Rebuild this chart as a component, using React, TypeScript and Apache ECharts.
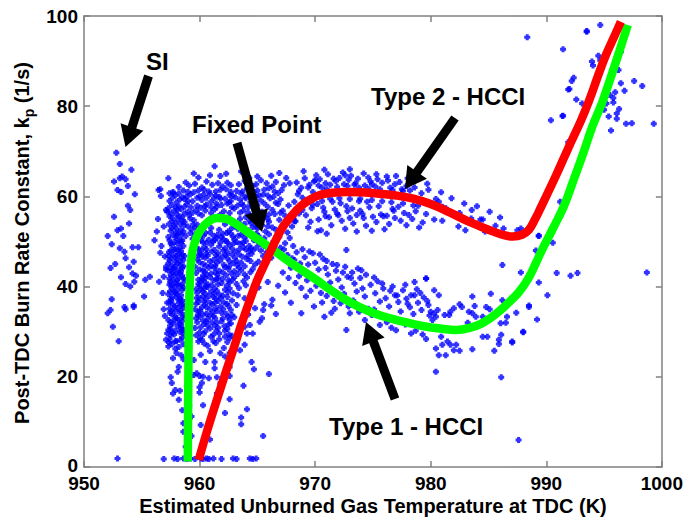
import React, { useEffect, useRef } from "react";
import * as echarts from "echarts";

const FONT = "'Liberation Sans', Arial, Helvetica, sans-serif";

const xTicks = [950, 960, 970, 980, 990, 1000];
const yTicks = [0, 20, 40, 60, 80, 100];

const greenCurve: number[][] = [
  [958.98, 1.2], [959.0, 10], [959.03, 20], [959.06, 30], [959.12, 38], [959.22, 44], [959.4, 48], [959.7, 50.6],
  [960.1, 52.6], [960.7, 54.3], [961.5, 55.2], [962.3, 55.0], [963.2, 53.8], [964.2, 52.0], [965.2, 50.2],
  [966.4, 48.1], [967.5, 46.0], [968.7, 43.9], [970.1, 41.5], [971.3, 39.3], [972.5, 37.3], [973.8, 35.5],
  [975.2, 34.0], [976.6, 32.9], [978.0, 32.0], [979.4, 31.2], [980.8, 30.7], [982.2, 30.4], [983.3, 30.8],
  [984.3, 31.7], [985.2, 33.1], [986.0, 34.7], [986.8, 36.6], [987.6, 38.7], [988.4, 41.6], [989.1, 45.2],
  [989.6, 48.0], [990.5, 52.5], [991.5, 57.7], [992.3, 63.2], [993.2, 69.6], [994.0, 75.6], [994.8, 80.6],
  [995.5, 85.8], [996.3, 92.0], [997.05, 98.0],
];

const redCurve: number[][] = [
  [959.93, 1.6], [960.7, 8.4], [961.5, 14.9], [962.2, 20.5], [962.9, 25.9], [963.6, 31.5], [964.35, 37.0],
  [965.0, 41.5], [965.8, 45.9], [966.5, 49.8], [967.2, 53.2], [968.0, 55.8], [968.7, 57.7], [969.5, 59.2],
  [970.4, 60.3], [971.5, 60.8], [972.7, 61.0], [974.0, 60.9], [975.5, 60.6], [977.0, 60.2], [978.5, 59.5],
  [980.0, 58.3], [981.6, 56.5], [983.3, 54.4], [985.0, 52.6], [986.2, 51.5], [987.1, 51.1], [987.9, 51.5],
  [988.5, 52.6], [989.0, 54.8], [989.5, 57.4], [990.8, 64.4], [991.9, 70.7], [993.0, 76.8], [993.7, 81.2],
  [994.5, 86.9], [995.1, 91.0], [995.8, 95.0], [996.45, 98.7],
];

const siCluster: number[][] = [
  [952.8, 69.7], [953.1, 67.2], [954.1, 65.9], [952.6, 63.3], [953.1, 64.0], [953.3, 64.4], [953.6, 63.8],
  [952.9, 61.4], [953.2, 61.0], [953.8, 62.3], [954.4, 60.5], [953.8, 57.9], [954.0, 57.0], [952.6, 55.5],
  [953.9, 54.0], [952.9, 52.5], [953.2, 52.9], [953.4, 51.2], [952.05, 51.2], [952.4, 49.4], [953.1, 48.5],
  [953.5, 47.7], [954.2, 48.7], [954.7, 48.7], [953.6, 46.3], [954.3, 45.5], [952.7, 45.0], [952.3, 44.1],
  [953.9, 44.3], [954.2, 42.9], [954.5, 42.4], [953.2, 42.1], [953.6, 40.6], [954.0, 40.0], [954.35, 41.1],
  [955.3, 41.5], [955.7, 42.2], [955.2, 37.8], [952.4, 37.2], [953.5, 35.5], [954.3, 35.8], [952.3, 34.8],
  [952.05, 34.1], [952.5, 31.1], [953.0, 27.9], [953.6, 35.0], [954.3, 35.5],
];

const coreCloud: number[][] = [
  [957.6, 27.3], [958.2, 26.6], [959.9, 27.8], [960.7, 26.9], [961.4, 27.5], [962.1, 26.4], [957.4, 28.4],
  [958.0, 27.9], [958.5, 28.7], [960.2, 28.2], [961.0, 28.9], [962.4, 27.7], [957.8, 29.4], [958.3, 29.9],
  [959.7, 29.2], [960.5, 30.1], [961.7, 29.6], [962.8, 29.1], [957.5, 30.6], [958.1, 31.2], [958.6, 30.4],
  [960.1, 31.0], [960.9, 30.7], [961.3, 31.4], [962.2, 30.2], [957.7, 31.8], [958.4, 31.5], [959.8, 32.1],
  [960.4, 31.7], [961.9, 32.3], [962.5, 31.6], [957.3, 32.6], [958.0, 33.0], [958.5, 32.4], [960.0, 33.3],
  [960.7, 32.8], [961.2, 33.5], [962.0, 32.9], [963.0, 33.2], [957.6, 33.8], [958.3, 34.2], [959.9, 34.4],
  [960.6, 34.0], [961.5, 34.6], [962.3, 33.9], [957.4, 35.1], [957.9, 34.7], [958.6, 35.3], [960.2, 35.4],
  [960.9, 35.0], [961.8, 35.6], [962.7, 34.8], [957.7, 36.0], [958.2, 36.4], [959.7, 36.2], [960.4, 36.7],
  [961.1, 36.1], [962.1, 36.5], [963.2, 35.9], [957.5, 37.2], [958.0, 37.6], [958.5, 36.9], [960.0, 37.4],
  [960.8, 37.9], [961.4, 37.3], [962.4, 37.7], [957.3, 38.3], [957.8, 38.8], [958.4, 38.1], [959.8, 38.6],
  [960.5, 38.4], [961.0, 38.9], [961.7, 38.2], [962.9, 38.5], [957.6, 39.5], [958.1, 39.2], [958.6, 39.8],
  [960.1, 39.4], [960.7, 39.9], [961.3, 39.6], [962.2, 39.3], [963.4, 39.7], [957.4, 40.4], [957.9, 40.8],
  [958.3, 40.2], [959.9, 40.6], [960.4, 41.1], [961.6, 40.5], [962.6, 40.9], [957.7, 41.5], [958.2, 41.9],
  [958.7, 41.3], [960.2, 41.8], [960.9, 42.1], [961.2, 41.4], [962.0, 41.7], [963.0, 42.0], [963.8, 41.2],
  [957.5, 42.6], [958.0, 42.9], [958.5, 42.4], [959.7, 43.0], [960.6, 42.7], [961.4, 43.1], [962.3, 42.5],
  [963.3, 42.8], [957.3, 43.6], [957.8, 44.0], [958.4, 43.4], [960.0, 43.8], [960.8, 44.2], [961.7, 43.5],
  [962.5, 43.9], [963.6, 43.6], [964.4, 43.2], [957.6, 44.7], [958.1, 45.1], [958.6, 44.5], [960.3, 45.0],
  [961.0, 44.6], [961.5, 45.3], [962.1, 44.8], [962.9, 45.2], [963.9, 44.5], [964.8, 44.9], [957.4, 45.8],
  [958.0, 46.2], [958.3, 45.6], [959.8, 46.0], [960.5, 46.4], [961.2, 45.9], [962.4, 46.3], [963.2, 45.7],
  [964.1, 46.1], [965.1, 45.5], [957.7, 47.0], [958.2, 47.3], [958.7, 46.8], [960.1, 47.2], [960.7, 46.9],
  [961.6, 47.4], [962.0, 46.7], [962.8, 47.1], [963.7, 46.6], [964.5, 47.3], [965.5, 46.8], [966.2, 46.4],
  [957.5, 48.0], [957.9, 48.4], [958.4, 47.9], [959.9, 48.3], [960.4, 48.7], [961.3, 48.1], [962.2, 48.5],
  [963.1, 47.8], [964.0, 48.2], [964.9, 48.6], [965.8, 47.6], [966.7, 47.9], [957.6, 49.2], [958.1, 49.6],
  [958.6, 49.0], [959.6, 49.4], [960.3, 49.8], [961.0, 49.3], [961.8, 49.7], [962.6, 49.1], [963.5, 49.5],
  [964.3, 49.0], [965.2, 49.4], [966.0, 48.9], [967.0, 48.6], [957.4, 50.3], [958.0, 50.7], [958.5, 50.2],
  [959.4, 50.6], [960.0, 50.9], [960.8, 50.4], [961.5, 50.8], [962.3, 50.1], [963.0, 50.5], [963.9, 50.9],
  [964.7, 50.3], [965.6, 50.7], [966.4, 50.0], [967.4, 49.6], [957.7, 51.4], [958.2, 51.8], [958.8, 51.2],
  [959.6, 51.6], [960.5, 51.9], [961.2, 51.3], [962.0, 51.7], [962.9, 51.1], [963.6, 51.5], [964.4, 51.9],
  [965.1, 51.2], [966.0, 51.6], [966.9, 51.0], [967.8, 50.8], [957.5, 52.4], [958.0, 52.8], [958.6, 52.2],
  [959.3, 52.7], [960.2, 52.9], [961.0, 53.0], [961.7, 52.6], [962.5, 52.3], [963.3, 52.8], [964.2, 52.5],
  [965.0, 52.9], [965.7, 52.2], [966.6, 52.6], [967.6, 52.0], [957.8, 53.5], [958.3, 53.9], [959.0, 53.3],
  [959.8, 53.7], [962.2, 53.8], [963.1, 53.4], [963.9, 53.9], [964.6, 53.2], [965.4, 53.6], [966.3, 53.1],
  [967.2, 53.7], [968.0, 53.3], [957.6, 54.5], [958.1, 54.9], [958.7, 54.3], [959.5, 54.7], [963.5, 55.0],
  [964.3, 54.6], [965.2, 55.1], [966.0, 54.4], [966.9, 54.8], [968.2, 54.5], [957.4, 55.6], [958.0, 56.0],
  [958.5, 55.4], [959.1, 55.8], [959.9, 56.2], [964.8, 55.9], [965.6, 55.5], [966.5, 56.1], [967.4, 55.7],
  [957.8, 56.8], [958.4, 57.2], [959.0, 56.6], [959.7, 57.0], [960.5, 56.9], [961.3, 57.1], [962.1, 56.7],
  [963.0, 57.3], [963.8, 56.9], [964.7, 57.2], [965.4, 56.6], [966.3, 57.0], [967.2, 56.8], [957.6, 58.1],
  [958.2, 57.8], [958.9, 58.3], [959.8, 57.9], [960.6, 58.2], [961.5, 57.7], [962.4, 58.4], [963.3, 58.0],
  [964.2, 57.6], [965.0, 58.1], [965.9, 57.7], [966.8, 58.3], [967.7, 58.0], [957.4, 59.0], [958.0, 58.7],
  [958.7, 59.4], [959.4, 58.9], [960.2, 59.2], [961.0, 58.8], [961.8, 59.5], [962.7, 59.0], [963.5, 59.3],
  [964.4, 58.7], [965.3, 59.1], [966.1, 59.6], [967.0, 59.3], [957.9, 60.2], [958.5, 59.8], [959.2, 60.4],
  [960.0, 60.0], [960.9, 60.5], [961.7, 59.9], [962.6, 60.3], [963.6, 60.6], [964.5, 60.1], [965.5, 60.4],
  [966.4, 59.9], [957.7, 61.0], [958.6, 61.3], [959.5, 60.9], [960.4, 61.5], [961.4, 61.1], [962.3, 61.6],
  [963.2, 61.2], [964.1, 61.7], [965.0, 61.3], [966.0, 61.8], [967.1, 61.4], [958.2, 62.1], [959.1, 62.4],
  [960.2, 62.0], [961.1, 62.6], [962.0, 62.2], [963.4, 62.7], [964.6, 62.3], [965.8, 62.9], [967.3, 62.5],
  [958.8, 63.1], [960.6, 63.3], [962.4, 63.0], [963.9, 63.4], [965.3, 63.6], [966.6, 63.2], [959.9, 64.2],
  [961.8, 64.5], [964.3, 64.1], [966.2, 64.6], [960.9, 64.7], [962.3, 65.0], [961.3, 66.7], [959.5, 65.1],
  [957.3, 64.0], [963.6, 65.5], [965.0, 64.4], [956.45, 61.4], [957.7, 60.7],
];

const coreInfill: number[][] = [
  [957.9, 27.9], [958.6, 27.2], [960.4, 27.4], [961.7, 28.3], [962.6, 28.6], [957.5, 29.2], [958.6, 29.6],
  [960.0, 29.8], [961.2, 29.3], [962.4, 30.6], [957.9, 30.2], [958.4, 30.9], [959.6, 30.8], [960.7, 31.3],
  [961.6, 30.9], [962.7, 31.8], [957.5, 32.1], [958.2, 32.6], [959.7, 33.0], [960.3, 32.5], [961.5, 32.0],
  [962.6, 32.7], [957.9, 33.4], [958.6, 33.7], [960.3, 33.8], [960.9, 33.6], [961.9, 34.2], [962.8, 33.7],
  [957.6, 34.6], [958.1, 35.3], [959.6, 35.0], [960.6, 35.4], [961.4, 35.2], [962.5, 35.7], [957.4, 36.4],
  [958.5, 36.2], [959.9, 36.6], [960.9, 36.4], [961.6, 36.8], [962.8, 36.9], [957.6, 37.7], [958.3, 37.3],
  [960.3, 37.8], [961.2, 37.7], [962.0, 38.0], [963.3, 38.1], [957.9, 38.6], [958.5, 39.3], [959.7, 39.4],
  [960.4, 39.6], [961.5, 39.0], [962.6, 39.6], [957.6, 40.3], [958.1, 40.6], [960.0, 40.2], [960.7, 40.5],
  [961.9, 40.8], [963.2, 40.6], [957.4, 41.8], [958.6, 41.8], [959.9, 41.5], [960.5, 41.9], [961.6, 41.9],
  [962.5, 41.4], [964.1, 42.0], [957.8, 42.5], [958.3, 42.9], [960.3, 42.4], [961.0, 42.9], [962.0, 43.1],
  [963.0, 43.4], [963.9, 42.7], [957.6, 43.9], [958.5, 44.1], [959.6, 44.4], [960.3, 43.6], [961.3, 44.1],
  [962.2, 44.3], [963.4, 44.2], [964.6, 43.9], [957.3, 45.1], [957.9, 45.5], [958.6, 45.9], [960.0, 45.4],
  [960.9, 45.6], [961.8, 45.8], [962.6, 45.6], [963.6, 45.3], [964.4, 45.7], [957.3, 46.8], [958.0, 46.8],
  [958.5, 47.1], [959.9, 47.0], [960.6, 47.4], [961.4, 47.0], [962.4, 47.6], [963.4, 47.2], [964.3, 47.9],
  [965.3, 48.0], [957.8, 48.1], [958.3, 48.6], [959.7, 48.6], [960.6, 48.3], [961.7, 48.9], [962.8, 48.4],
  [963.8, 48.8], [964.6, 48.0], [965.6, 49.0], [957.5, 49.6], [958.4, 49.8], [959.7, 50.1], [960.6, 49.7],
  [961.3, 50.3], [962.4, 49.8], [963.2, 49.9], [964.0, 50.1], [965.0, 50.0], [957.3, 51.0], [958.0, 51.3],
  [959.2, 51.9], [960.0, 51.4], [960.9, 52.0], [961.9, 51.0], [962.7, 51.8], [963.8, 52.2], [964.9, 51.7],
  [957.6, 53.0], [958.4, 52.6], [959.6, 53.1], [962.8, 53.0], [963.6, 53.6], [964.9, 53.4], [965.9, 53.4],
  [957.9, 54.1], [958.5, 54.6], [959.2, 55.1], [964.0, 55.4], [965.0, 54.2], [965.9, 55.0], [957.3, 57.4],
  [958.1, 57.0], [958.7, 57.7], [960.1, 57.5], [961.0, 57.6], [961.9, 58.1], [962.8, 57.6], [963.8, 57.9],
  [964.8, 58.5], [965.6, 58.4], [966.6, 58.6], [957.5, 56.2], [958.7, 56.2], [959.4, 56.4], [960.2, 55.8],
  [961.0, 56.3], [961.8, 56.0], [962.6, 56.3], [963.5, 56.4], [964.2, 56.4], [966.0, 56.0], [967.0, 56.4],
  [958.3, 59.3], [959.0, 59.0], [959.8, 59.7], [960.6, 59.7], [961.4, 60.2], [962.2, 59.5], [963.1, 59.8],
  [964.0, 59.6], [964.9, 59.9], [965.9, 60.2], [966.8, 60.7], [958.2, 60.7], [959.0, 61.0], [959.9, 61.3],
  [960.8, 61.1], [961.8, 61.5], [962.7, 61.0], [963.7, 61.1], [964.7, 61.0], [965.6, 61.5], [966.5, 61.1],
  [962.7, 62.5], [961.6, 62.9], [959.6, 62.8], [964.9, 62.7], [966.3, 62.2],
];

const coreInfill2: number[][] = [
  [957.35, 27.6], [958.35, 28.2], [960.05, 28.6], [961.2, 27.9], [962.2, 28.9], [957.65, 29.8], [958.45, 30.3],
  [960.35, 29.5], [961.45, 30.2], [962.55, 29.4], [957.45, 31.3], [958.25, 31.9], [960.55, 32.2], [961.05, 32.1],
  [962.15, 31.2], [957.85, 32.7], [958.55, 33.2], [959.85, 33.7], [961.35, 33.0], [962.45, 33.3], [957.45, 34.2],
  [958.35, 34.7], [960.05, 34.7], [961.15, 34.3], [962.05, 35.0], [957.85, 35.6], [958.45, 35.8], [960.45, 36.0],
  [961.35, 36.4], [962.35, 36.2], [957.55, 36.9], [958.25, 37.0], [959.75, 37.5], [960.55, 37.2], [961.85, 37.4],
  [957.45, 38.9], [958.05, 38.3], [960.25, 38.9], [961.25, 38.4], [962.45, 38.8], [957.85, 39.9], [958.45, 40.4],
  [960.55, 40.1], [961.05, 40.3], [962.35, 40.2], [957.45, 41.1], [958.05, 41.4], [960.15, 41.2], [961.45, 41.6],
  [962.85, 41.5], [957.65, 43.2], [958.15, 43.6], [960.45, 43.3], [961.55, 42.6], [962.75, 42.9], [957.85, 44.4],
  [958.35, 44.8], [960.55, 44.7], [961.35, 44.6], [962.55, 44.5], [963.25, 44.8], [957.55, 46.3], [958.45, 46.5],
  [960.25, 46.6], [961.55, 46.5], [962.25, 47.0], [963.05, 46.4], [964.15, 46.8], [957.35, 47.6], [958.15, 48.0],
  [960.15, 48.0], [961.05, 47.8], [962.05, 48.0], [963.45, 48.3], [964.45, 48.5], [957.85, 49.9], [958.35, 50.4],
  [960.15, 50.3], [961.15, 50.0], [962.05, 50.5], [962.95, 49.6], [963.75, 49.8], [957.95, 52.0], [958.45, 51.6],
  [960.35, 51.3], [961.55, 51.5], [962.35, 51.9], [963.35, 51.3], [964.15, 51.6], [957.35, 53.8], [958.65, 53.6],
  [959.45, 53.8], [963.35, 53.9], [964.45, 54.1], [965.35, 54.3], [958.25, 55.6], [957.65, 55.2], [964.35, 55.7],
  [965.15, 56.2], [957.95, 57.6], [959.25, 57.6], [960.45, 57.8], [961.45, 58.4], [962.55, 58.7], [963.65, 58.4],
  [964.55, 58.0], [957.65, 59.7], [958.85, 60.0], [960.35, 60.4], [961.25, 59.6], [962.85, 60.1], [963.95, 60.0],
  [965.15, 60.2],
];

const coreFringe: number[][] = [
  [956.6, 61.6], [956.65, 60.1], [957.4, 60.7], [957.1, 57.0], [957.2, 56.6], [956.3, 52.2], [956.9, 53.3],
  [956.1, 50.3], [956.7, 49.0], [957.1, 44.4], [957.1, 43.8], [956.9, 42.2], [956.5, 41.1], [957.0, 33.5],
  [957.3, 30.4], [957.1, 28.2], [957.2, 29.6], [957.3, 26.7], [956.8, 38.6], [957.0, 46.7], [956.6, 47.5],
  [957.2, 36.4], [956.9, 35.0], [956.4, 55.0],
  [965.6, 36.1], [965.5, 34.8], [965.4, 33.0], [966.6, 33.9], [965.2, 32.2], [964.35, 31.5], [964.6, 29.6],
  [963.9, 31.1], [964.1, 29.6], [963.9, 27.1], [964.5, 23.3], [964.7, 21.7], [966.0, 20.6], [962.6, 22.2],
  [962.6, 20.2], [963.8, 18.0], [962.6, 15.0], [964.1, 12.8], [962.2, 12.0], [963.6, 11.0], [963.6, 9.5],
  [965.5, 6.9], [960.9, 6.1], [960.1, 9.3], [959.3, 6.9], [958.6, 9.7], [958.6, 7.8], [958.5, 12.6],
  [958.2, 14.9], [957.6, 18.6], [957.9, 17.1], [957.7, 16.3], [958.3, 16.9], [960.2, 18.6], [960.0, 17.7],
  [960.0, 16.5], [960.0, 20.2], [960.3, 20.0], [961.5, 16.3], [961.8, 18.6], [961.5, 19.9], [960.8, 19.7],
  [959.5, 20.4], [959.2, 20.2], [959.75, 20.8], [958.2, 22.2], [958.1, 21.1], [957.7, 24.1], [958.6, 23.9],
  [959.5, 23.7], [960.5, 23.3], [961.3, 23.3], [962.5, 22.6], [962.6, 25.3], [962.2, 24.5], [961.8, 25.2],
  [957.5, 19.9], [958.0, 25.3], [958.4, 24.8], [959.0, 25.6], [960.1, 24.9], [960.9, 25.7], [961.3, 21.9],
  [958.9, 18.0], [959.1, 13.5], [959.3, 11.2], [960.3, 13.7], [961.2, 12.4], [957.9, 26.2], [963.1, 27.8],
  [963.4, 30.3], [963.5, 25.9], [958.8, 4.5],
  [964.8, 35.2], [964.2, 33.8], [963.9, 37.4], [964.6, 38.9], [965.1, 39.8], [964.0, 40.3], [966.3, 37.1],
  [965.9, 41.0], [966.8, 40.2], [967.4, 38.7], [966.2, 35.8],
];

const floorPoints: number[][] = [
  [952.9, 1.9], [956.9, 1.8], [957.8, 1.9], [958.1, 1.8], [958.6, 1.9], [958.9, 1.8], [959.2, 1.9],
  [959.6, 1.8], [960.1, 1.9], [960.3, 1.8], [960.6, 1.9], [960.8, 1.8], [961.2, 1.9], [961.9, 1.8],
  [962.9, 1.9], [963.2, 1.8], [964.35, 1.9], [964.6, 1.8], [964.9, 1.9],
];

const upperBand: number[][] = [
  [968.3, 54.5], [968.6, 56.2], [968.2, 58.8], [968.5, 60.5], [968.8, 61.9], [968.4, 63.1], [968.9, 59.7],
  [968.1, 55.3], [969.4, 53.1], [969.2, 55.8], [969.7, 57.4], [969.3, 59.2], [969.8, 61.0], [969.5, 62.6],
  [969.1, 64.0], [969.9, 63.3], [969.6, 54.4], [970.5, 52.5], [970.3, 54.9], [970.8, 56.6], [970.2, 58.3],
  [970.6, 61.9], [970.9, 62.9], [970.4, 63.8], [970.7, 57.5], [970.1, 64.7], [971.4, 53.6], [971.2, 55.4],
  [971.7, 57.1], [971.5, 58.8], [971.3, 62.6], [971.8, 63.4], [971.1, 64.9], [971.9, 56.2], [971.6, 63.9],
  [972.6, 52.8], [972.3, 54.6], [972.8, 56.7], [972.2, 58.5], [972.5, 62.7], [972.9, 63.7], [972.4, 65.3],
  [972.7, 57.8], [972.1, 64.1], [973.3, 54.0], [973.6, 55.9], [973.2, 57.3], [973.8, 58.9], [973.4, 62.6],
  [973.7, 63.9], [973.1, 64.6], [973.9, 56.8], [973.5, 62.9], [974.4, 53.5], [974.2, 55.2], [974.7, 57.6],
  [974.5, 58.8], [974.3, 62.4], [974.8, 63.3], [974.6, 64.2], [974.1, 56.1], [974.9, 62.7], [975.3, 54.3],
  [975.7, 56.0], [975.5, 57.8], [975.2, 62.2], [975.8, 63.0], [975.4, 63.8], [975.9, 55.6], [976.4, 53.9],
  [976.2, 55.7], [976.7, 57.2], [976.5, 61.9], [976.9, 62.7], [976.3, 63.5], [976.8, 56.8], [977.4, 54.6],
  [977.7, 56.3], [977.2, 57.7], [977.5, 61.6], [977.9, 62.3], [977.3, 63.2], [978.4, 55.0], [978.7, 56.7],
  [978.2, 61.3], [978.6, 62.0], [978.9, 57.9], [979.3, 54.2], [979.6, 56.1], [979.2, 60.7], [979.8, 61.5],
  [979.5, 58.9], [980.45, 59.4], [980.7, 58.8], [980.6, 58.1], [981.0, 57.7], [981.3, 57.4], [981.45, 56.8],
  [980.3, 54.9], [981.0, 54.6], [982.5, 56.3], [982.6, 55.5], [983.55, 57.0], [983.5, 55.1], [984.3, 54.9],
  [984.5, 54.9], [982.4, 53.3], [983.0, 52.5], [987.5, 52.5], [987.8, 52.9], [989.35, 51.2],
  [967.8, 62.9], [967.5, 64.1], [966.9, 65.2], [969.0, 65.6], [970.8, 65.9], [973.0, 66.0], [975.3, 64.9],
  [977.0, 64.5], [978.3, 63.4], [979.7, 62.8], [980.9, 60.9], [981.8, 59.6], [982.9, 58.4], [984.0, 57.8],
  [985.1, 56.6], [986.0, 55.3], [985.6, 53.5], [984.7, 52.2], [986.3, 52.9], [979.0, 53.1], [977.9, 53.6],
  [976.0, 52.7], [974.9, 52.4], [971.0, 51.7], [973.6, 52.2], [970.2, 52.3],
  [968.6, 61.2], [969.4, 62.0], [970.3, 62.4], [971.0, 61.6], [971.9, 62.1], [972.8, 62.3], [973.8, 61.9],
  [974.6, 61.7], [975.6, 61.6], [976.7, 61.4], [977.6, 61.2], [968.9, 57.0], [969.8, 58.1], [970.6, 59.0],
  [971.3, 59.5], [972.1, 59.6], [973.0, 59.4], [973.9, 59.5], [974.9, 59.2], [975.8, 58.9], [976.6, 58.7],
  [977.6, 58.4], [978.5, 58.0], [970.9, 55.6], [972.0, 55.8], [973.0, 55.2], [975.0, 55.5], [976.9, 55.2],
  [978.1, 55.9], [970.0, 63.6], [972.6, 64.7], [974.2, 65.1], [976.2, 64.4], [978.0, 64.0],
];

const lowerBand: number[][] = [
  [967.3, 48.2], [967.6, 47.0], [967.9, 44.2], [967.2, 43.1], [967.7, 41.9], [968.1, 49.0], [968.4, 47.6],
  [968.2, 45.9], [968.6, 42.3], [968.3, 40.8], [968.8, 39.7], [968.9, 48.3], [969.1, 46.5], [969.4, 44.9],
  [969.0, 43.0], [969.3, 41.4], [969.6, 39.1], [969.8, 47.4], [970.0, 45.3], [970.3, 43.8], [970.1, 40.2],
  [970.5, 38.6], [970.7, 46.2], [970.9, 44.1], [971.1, 42.7], [971.3, 40.9], [971.0, 37.9], [971.6, 36.8],
  [971.5, 45.0], [971.8, 43.5], [972.0, 41.6], [972.3, 39.8], [972.2, 36.3], [972.6, 44.4], [972.8, 42.2],
  [972.5, 38.4], [972.9, 35.6], [972.7, 48.1], [973.2, 43.1], [973.4, 40.7], [973.6, 38.9], [973.3, 36.9],
  [973.8, 34.4], [973.9, 41.9], [974.1, 39.6], [974.3, 37.8], [974.6, 35.1], [974.0, 43.6], [974.8, 40.4],
  [974.9, 33.7], [975.2, 38.5], [975.4, 41.2], [975.6, 36.7], [975.1, 34.9], [975.9, 39.6], [976.1, 37.4],
  [976.4, 35.6], [976.2, 32.1], [976.7, 40.0], [976.9, 38.1], [976.6, 30.9], [977.2, 36.6], [977.4, 34.5],
  [977.6, 39.2], [977.9, 37.3], [977.8, 31.6], [978.2, 35.4], [978.5, 33.9], [978.3, 38.1], [978.6, 41.0],
  [978.9, 36.4], [978.7, 30.2], [979.2, 34.8], [979.4, 37.6], [979.6, 41.8], [979.8, 35.9], [979.3, 29.4],
  [979.9, 33.6], [972.7, 30.4], [970.8, 33.3], [968.8, 34.1], [969.9, 35.6], [971.4, 34.2], [967.9, 36.4],
  [980.3, 39.2], [980.7, 38.1], [980.0, 34.4], [980.3, 34.1], [980.45, 33.3], [980.15, 32.6], [980.6, 34.8],
  [980.9, 28.9], [981.0, 27.1], [981.45, 27.8], [981.7, 27.1], [982.2, 27.1], [982.0, 25.9], [982.5, 25.8],
  [980.7, 24.8], [981.3, 24.8], [983.6, 26.1], [984.5, 28.9], [984.9, 28.9], [980.45, 26.3], [983.6, 37.8],
  [983.8, 35.7], [983.3, 34.4], [983.6, 34.1], [983.9, 33.3], [984.5, 33.3], [983.2, 32.0], [982.7, 35.5],
  [982.5, 36.1], [982.0, 35.2], [981.7, 34.4], [981.6, 33.7], [981.2, 33.7], [985.2, 38.4], [984.8, 35.5],
  [985.1, 35.0], [986.2, 37.0], [986.6, 33.3], [986.05, 31.9], [986.5, 32.0], [986.1, 29.3], [985.9, 28.2],
  [985.9, 27.3], [985.5, 25.8], [988.5, 35.5], [987.4, 34.2], [989.2, 32.7], [988.0, 29.9], [987.05, 27.6],
  [988.5, 35.8], [988.0, 30.0], [987.05, 27.8],
  [968.0, 46.3], [968.7, 45.1], [969.5, 47.8], [970.4, 47.1], [971.0, 45.7], [971.9, 44.8], [972.4, 43.1],
  [973.1, 41.9], [973.7, 44.0], [974.4, 42.6], [975.1, 42.0], [975.8, 40.7], [976.5, 39.1], [977.1, 38.0],
  [977.8, 40.4], [978.0, 36.2], [978.8, 39.4], [979.1, 38.6], [979.7, 36.8], [969.2, 37.8], [970.6, 36.5],
  [971.7, 35.1], [973.0, 34.1], [974.3, 32.6], [975.6, 31.5], [977.0, 30.3], [978.3, 29.6], [979.6, 28.4],
];

const rightTail: number[][] = [
  [994.67, 98.0], [993.5, 96.7], [991.45, 92.6], [994.5, 91.2], [994.67, 90.2], [993.95, 89.9], [994.04, 89.0],
  [996.45, 92.1], [996.25, 88.0], [992.37, 86.3], [992.2, 85.6], [995.5, 85.6], [996.45, 85.1], [997.6, 85.6],
  [998.3, 84.5], [992.0, 83.8], [996.77, 83.4], [995.5, 82.5], [995.96, 83.1], [995.8, 81.8], [992.6, 81.5],
  [993.1, 80.6], [995.2, 80.6], [995.8, 80.8], [994.8, 79.9], [995.0, 79.2], [996.3, 79.4], [996.1, 78.4],
  [995.4, 77.7], [996.1, 77.2], [991.45, 77.9], [990.4, 76.9], [996.9, 76.1], [997.4, 76.2], [999.3, 76.1],
  [995.6, 74.6], [991.9, 72.0], [991.2, 58.8], [989.35, 51.3], [990.56, 49.7], [988.35, 95.3], [993.5, 96.5],
  [991.4, 77.8], [991.9, 83.7],
  [990.9, 43.0], [992.1, 42.4], [992.7, 43.0], [987.8, 43.1], [989.35, 40.9], [990.1, 38.1], [986.2, 44.8],
  [989.1, 48.0], [998.7, 43.1], [980.45, 21.1], [986.1, 19.9], [987.6, 6.0], [979.6, 41.8], [978.6, 38.1],
];

const scatterData = [
  ...siCluster, ...coreCloud, ...coreInfill, ...coreInfill2, ...coreFringe, ...floorPoints,
  ...upperBand, ...lowerBand, ...rightTail,
];

type Pt = [number, number];
function arrowPoints(tail: Pt, tip: Pt, shaftW: number, headL: number, headW: number): number[][] {
  const dx = tip[0] - tail[0];
  const dy = tip[1] - tail[1];
  const len = Math.hypot(dx, dy);
  const ux = dx / len, uy = dy / len;
  const nx = -uy, ny = ux;
  const bx = tip[0] - ux * headL, by = tip[1] - uy * headL;
  const s = shaftW / 2, h = headW / 2;
  return [
    [tail[0] + nx * s, tail[1] + ny * s],
    [bx + nx * s, by + ny * s],
    [bx + nx * h, by + ny * h],
    [tip[0], tip[1]],
    [bx - nx * h, by - ny * h],
    [bx - nx * s, by - ny * s],
    [tail[0] - nx * s, tail[1] - ny * s],
  ];
}

const labelStyle = { fill: "#000", fontFamily: FONT, fontWeight: "bold" as const, fontSize: 24 };

export default function App() {
  const ref = useRef<HTMLDivElement>(null);
  useEffect(() => {
    if (!ref.current) return;
    const chart = echarts.init(ref.current, null, { renderer: "svg" });
    const axisLine = { show: true, onZero: false, lineStyle: { color: "#808080", width: 1.5 } };
    const axisTick = { show: true, inside: true, length: 6, lineStyle: { color: "#808080", width: 1.5 } };
    const tickText = { color: "#000", fontSize: 19, fontWeight: "bold" as const, fontFamily: FONT, lineHeight: 14 };
    const arrows: [Pt, Pt][] = [
      [[148.5, 76], [125.5, 147]],
      [[237, 143], [262, 232]],
      [[455, 118], [405, 189]],
      [[395, 399], [366, 322]],
    ];
    chart.setOption({
      animation: false,
      backgroundColor: "#fff",
      grid: { left: 84, right: 23, top: 16, bottom: 53 },
      xAxis: [
        {
          type: "value", min: xTicks[0], max: xTicks[xTicks.length - 1], interval: 10, position: "bottom",
          axisLine, axisTick,
          axisLabel: { ...tickText, margin: 9, formatter: (v: number) => String(v) },
          splitLine: { show: false },
        },
        {
          type: "value", min: xTicks[0], max: xTicks[xTicks.length - 1], interval: 10, position: "top",
          axisLine, axisTick, axisLabel: { show: false }, splitLine: { show: false },
        },
      ],
      yAxis: [
        {
          type: "value", min: yTicks[0], max: yTicks[yTicks.length - 1], interval: 20, position: "left",
          axisLine, axisTick,
          axisLabel: {
            ...tickText, margin: 6,
            formatter: (v: number) => (v === 0 ? "{z|0}" : String(v)),
            rich: { z: { ...tickText, padding: [0, 0, 4, 0] } },
          },
          splitLine: { show: false },
        },
        {
          type: "value", min: yTicks[0], max: yTicks[yTicks.length - 1], interval: 20, position: "right",
          axisLine, axisTick, axisLabel: { show: false }, splitLine: { show: false },
        },
      ],
      series: [
        {
          type: "scatter",
          data: scatterData,
          symbol: "path://M1,0H3V1H4V3H3V4H1V3H0V1H1Z",
          symbolSize: 6,
          itemStyle: { color: "#0000FF" },
          silent: true,
        },
        {
          type: "line", data: greenCurve, smooth: 0.4, symbol: "none",
          lineStyle: { color: "#00FF00", width: 8.5, cap: "butt" }, silent: true,
        },
        {
          type: "line", data: redCurve, smooth: 0.4, symbol: "none",
          lineStyle: { color: "#FF0000", width: 8.5, cap: "butt" }, silent: true,
        },
      ],
      graphic: [
        ...arrows.map(([tail, tip]) => ({
          type: "polygon", z: 100,
          shape: { points: arrowPoints(tail, tip, 9, 21, 24) },
          style: { fill: "#000" },
        })),
        { type: "text", z: 100, x: 146, y: 61, style: { ...labelStyle, text: "SI", verticalAlign: "middle" } },
        { type: "text", z: 100, x: 192, y: 124, style: { ...labelStyle, text: "Fixed Point", verticalAlign: "middle" } },
        { type: "text", z: 100, x: 371, y: 96, style: { ...labelStyle, text: "Type 2 - HCCI", verticalAlign: "middle" } },
        { type: "text", z: 100, x: 329, y: 426, style: { ...labelStyle, text: "Type 1 - HCCI", verticalAlign: "middle" } },
        {
          type: "text", z: 100, x: 373, y: 506,
          style: {
            text: "Estimated Unburned Gas Temperature at TDC (K)", fill: "#000", fontFamily: FONT,
            fontWeight: "bold", fontSize: 20, align: "center", verticalAlign: "middle",
          },
        },
        {
          type: "text", z: 100, x: 22, y: 243, rotation: Math.PI / 2,
          style: {
            text: "{a|Post-TDC Burn Rate Constant, k}{b|p}{a| (1/s)}",
            align: "center", verticalAlign: "middle", fill: "#000",
            rich: {
              a: { fontFamily: FONT, fontWeight: "bold", fontSize: 20, lineHeight: 28, fill: "#000" },
              b: { fontFamily: FONT, fontWeight: "bold", fontSize: 14, lineHeight: 14, verticalAlign: "bottom", fill: "#000" },
            },
          },
        },
      ],
    });
    return () => chart.dispose();
  }, []);
  return <div ref={ref} style={{ position: "fixed", left: 0, top: 0, width: 686, height: 520 }} />;
}
